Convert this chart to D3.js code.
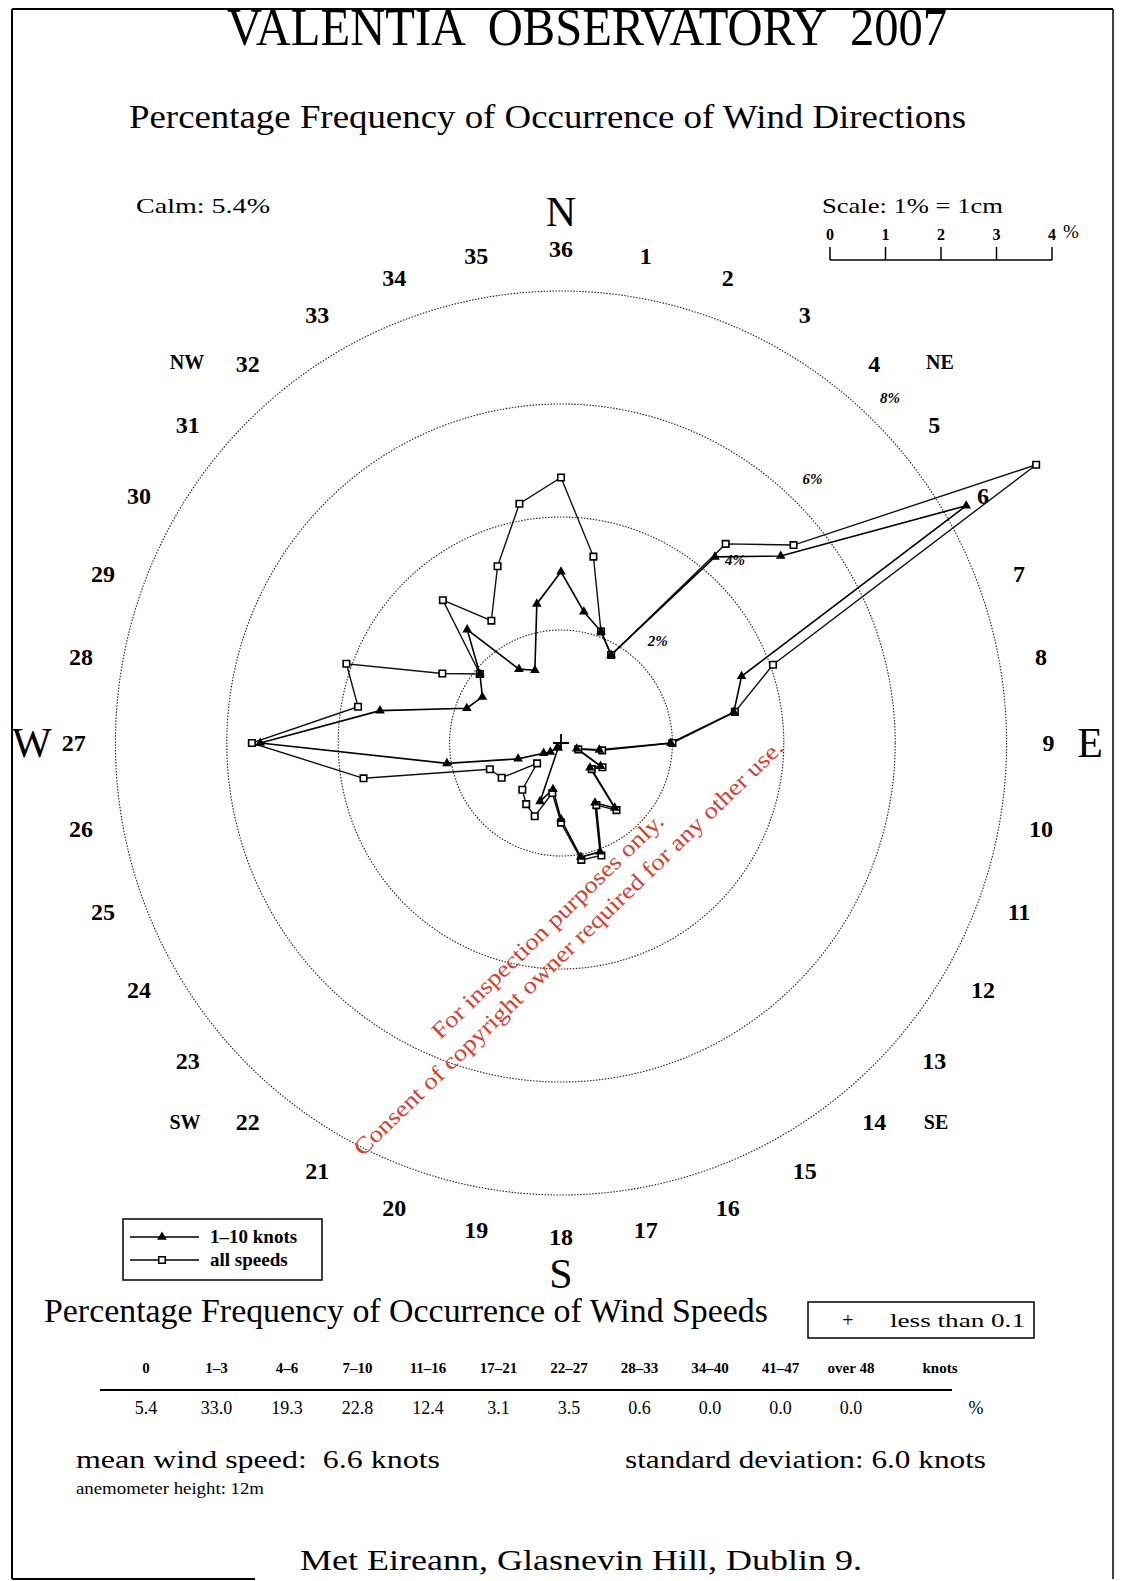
<!DOCTYPE html>
<html>
<head>
<meta charset="utf-8">
<script src="https://cdn.jsdelivr.net/npm/d3@7"></script>
<style>
  body { margin: 0; background: #fff; }
  text { font-family: 'Liberation Serif', 'Times New Roman', serif; fill: #000; }
</style>
</head>
<body>
<script>
var w = 1122;
var h = 1581;

// wind directions in tens of degrees (1 = 10deg ... 36 = 360deg)
var directions = d3.range(1, 37);
// % frequency, all speeds (squares)
var allSpeeds = [3.35, 2.1, 1.8, 4.6, 5.45, 9.85, 4.05, 3.17, 2.0, 0.75, 0.33, 0.86,
                 0.72, 1.55, 1.27, 2.12, 2.1, 1.41, 0.9, 1.38, 1.25, 1.08, 0.56, 1.23,
                 1.36, 3.6, 5.55, 3.7, 4.1, 2.46, 1.9, 3.3, 2.5, 3.33, 4.3, 4.7];
// % frequency, 1-10 knots (triangles)
var lowSpeeds = [2.36, 2.1, 1.8, 4.3, 5.15, 8.4, 3.45, 3.15, 1.97, 0.7, 0.3, 0.82,
                 0.68, 1.5, 1.22, 2.05, 2.05, 1.35, 0.83, 1.1, 0.1, 0.1, 0.25, 0.36,
                 0.82, 2.08, 5.4, 3.3, 1.8, 1.63, 1.9, 2.62, 1.51, 1.37, 2.5, 3.03];
var rings = [2, 4, 6, 8];
var scaleTicks = [0, 1, 2, 3, 4];

// wind speed table
var speedBands = ['0', '1–3', '4–6', '7–10', '11–16', '17–21', '22–27', '28–33', '34–40', '41–47', 'over 48'];
var speedPct = ['5.4', '33.0', '19.3', '22.8', '12.4', '3.1', '3.5', '0.6', '0.0', '0.0', '0.0'];

var compass = [['N', 0], ['E', 90], ['S', 180], ['W', 270]];
var octants = [['NE', 940, 362], ['SE', 936, 1122], ['SW', 185, 1122], ['NW', 187, 362]];

var cx = 561, cy = 743;

var svg = d3.select('body')
            .append('svg')
            .attr('width', w)
            .attr('height', h);

// scanned page is a touch taller than wide
var rx = d3.scaleLinear().domain([0, 1]).range([0, 55.7]);
var ry = d3.scaleLinear().domain([0, 1]).range([0, 56.5]);
var ang = d3.scaleLinear().domain([0, 36]).range([0, 2 * Math.PI]);

function px(d, v) { return cx + rx(v) * Math.sin(ang(d)); }
function py(d, v) { return cy - ry(v) * Math.cos(ang(d)); }

// page frame
svg.append('line').attr('x1', 12).attr('y1', 9).attr('x2', 1113).attr('y2', 9)
   .attr('stroke', '#000').attr('stroke-width', 2);
svg.append('line').attr('x1', 12).attr('y1', 9).attr('x2', 12).attr('y2', 1579)
   .attr('stroke', '#000').attr('stroke-width', 2);
svg.append('line').attr('x1', 1113).attr('y1', 9).attr('x2', 1113).attr('y2', 1579)
   .attr('stroke', '#000').attr('stroke-width', 1.5);
svg.append('line').attr('x1', 12).attr('y1', 1579).attr('x2', 255).attr('y2', 1579)
   .attr('stroke', '#000').attr('stroke-width', 2);

// titles
svg.append('text').attr('x', 227).attr('y', 45)
   .attr('font-size', 52).attr('textLength', 720).attr('lengthAdjust', 'spacingAndGlyphs')
   .text('VALENTIA  OBSERVATORY  2007').style('white-space', 'pre');
svg.append('text').attr('x', 129).attr('y', 128)
   .attr('font-size', 34).attr('textLength', 837).attr('lengthAdjust', 'spacingAndGlyphs')
   .text('Percentage Frequency of Occurrence of Wind Directions');
svg.append('text').attr('x', 136).attr('y', 213)
   .attr('font-size', 22).attr('textLength', 134).attr('lengthAdjust', 'spacingAndGlyphs')
   .text('Calm: 5.4%');

// scale bar 1% = 1cm
var sb = d3.scaleLinear().domain([0, 4]).range([830, 1052]);
svg.append('text').attr('x', 822).attr('y', 213)
   .attr('font-size', 21).attr('textLength', 181).attr('lengthAdjust', 'spacingAndGlyphs')
   .text('Scale: 1% = 1cm');
svg.append('line').attr('x1', sb(0)).attr('x2', sb(4)).attr('y1', 260).attr('y2', 260)
   .attr('stroke', '#000').attr('stroke-width', 1.5);
svg.selectAll('.sbtick').data(scaleTicks).enter().append('line')
   .attr('x1', sb).attr('x2', sb).attr('y1', 247).attr('y2', 260)
   .attr('stroke', '#000').attr('stroke-width', 1.5);
svg.selectAll('.sblab').data(scaleTicks).enter().append('text')
   .attr('x', sb).attr('y', 240).attr('text-anchor', 'middle')
   .attr('font-size', 16).attr('font-weight', 'bold').text(function(d) { return d; });
svg.append('text').attr('x', 1063).attr('y', 238).attr('font-size', 19).text('%');

// dotted rings
svg.selectAll('.ring').data(rings).enter().append('ellipse')
   .attr('cx', cx).attr('cy', cy)
   .attr('rx', function(d) { return rx(d); })
   .attr('ry', function(d) { return ry(d); })
   .attr('fill', 'none').attr('stroke', '#222').attr('stroke-width', 1.1)
   .attr('stroke-dasharray', '1.5,1.5');

svg.selectAll('.ringlab').data(rings).enter().append('text')
   .attr('x', function(d) { return px(4.4, d + 0.5); })
   .attr('y', function(d) { return py(4.4, d + 0.5); })
   .attr('text-anchor', 'middle').attr('dominant-baseline', 'central')
   .attr('font-size', 15).attr('font-weight', 'bold').attr('font-style', 'italic')
   .text(function(d) { return d + '%'; });

// direction numbers
svg.selectAll('.dirlab').data(directions).enter().append('text')
   .attr('x', function(d) { return px(d, 8.75); })
   .attr('y', function(d) { return py(d, 8.75); })
   .attr('text-anchor', 'middle').attr('dominant-baseline', 'central')
   .attr('font-size', 24).attr('font-weight', 'bold')
   .text(function(d) { return d; });

// N E S W
svg.selectAll('.comp').data(compass).enter().append('text')
   .attr('x', function(d) { return px(d[1] / 10, d[1] == 90 || d[1] == 270 ? 9.5 : 9.3); })
   .attr('y', function(d) { return py(d[1] / 10, d[1] == 0 || d[1] == 180 ? 9.4 : 9.5); })
   .attr('text-anchor', 'middle').attr('dominant-baseline', 'central')
   .attr('font-size', 42)
   .text(function(d) { return d[0]; });

svg.selectAll('.oct').data(octants).enter().append('text')
   .attr('x', function(d) { return d[1]; }).attr('y', function(d) { return d[2]; })
   .attr('text-anchor', 'middle').attr('dominant-baseline', 'central')
   .attr('font-size', 20).attr('font-weight', 'bold')
   .text(function(d) { return d[0]; });

// wind rose polylines
function rose(vals) {
  return d3.line()
    .x(function(d, i) { return px(directions[i], d); })
    .y(function(d, i) { return py(directions[i], d); })
    .curve(d3.curveLinearClosed)(vals);
}

svg.append('path').attr('d', rose(allSpeeds))
   .attr('fill', 'none').attr('stroke', '#111').attr('stroke-width', 1.4);
svg.append('path').attr('d', rose(lowSpeeds))
   .attr('fill', 'none').attr('stroke', '#000').attr('stroke-width', 1.6);

var sq = d3.symbol().type(d3.symbolSquare).size(42);
var tri = d3.symbol().type(d3.symbolTriangle).size(40);

svg.selectAll('.sq').data(allSpeeds).enter().append('path')
   .attr('d', sq)
   .attr('transform', function(d, i) { return 'translate(' + px(directions[i], d) + ',' + py(directions[i], d) + ')'; })
   .attr('fill', '#fff').attr('stroke', '#000').attr('stroke-width', 1.6);
svg.selectAll('.tri').data(lowSpeeds).enter().append('path')
   .attr('d', tri)
   .attr('transform', function(d, i) { return 'translate(' + px(directions[i], d) + ',' + py(directions[i], d) + ')'; })
   .attr('fill', '#000');

// centre cross
svg.append('path').attr('d', 'M' + (cx - 8) + ',' + cy + 'H' + (cx + 8) + 'M' + cx + ',' + (cy - 9) + 'V' + (cy + 7))
   .attr('stroke', '#000').attr('stroke-width', 1.8);

// legend
var leg = svg.append('g');
leg.append('rect').attr('x', 123).attr('y', 1219).attr('width', 199).attr('height', 61)
   .attr('fill', 'none').attr('stroke', '#000').attr('stroke-width', 1.5);
[[1237, '1–10 knots', tri], [1260, 'all speeds', sq]].forEach(function(r, i) {
  leg.append('line').attr('x1', 130).attr('x2', 199).attr('y1', r[0]).attr('y2', r[0])
     .attr('stroke', '#000').attr('stroke-width', 1.3);
  leg.append('path').attr('d', r[2]).attr('transform', 'translate(162,' + r[0] + ')')
     .attr('fill', i == 0 ? '#000' : '#fff').attr('stroke', '#000').attr('stroke-width', i == 0 ? 0 : 1.5);
  leg.append('text').attr('x', 210).attr('y', r[0] + 6).attr('font-size', 19).attr('font-weight', 'bold')
     .text(r[1]);
});

// watermark
var wm = svg.append('g').attr('transform', 'translate(559,938) rotate(-44)');
wm.append('text').attr('x', 0).attr('y', -9).attr('text-anchor', 'middle')
  .attr('font-size', 23).attr('textLength', 313).attr('lengthAdjust', 'spacingAndGlyphs')
  .style('fill', '#d2412f').text('For inspection purposes only.');
wm.append('text').attr('x', 0).attr('y', 21).attr('text-anchor', 'middle')
  .attr('font-size', 23).attr('textLength', 587).attr('lengthAdjust', 'spacingAndGlyphs')
  .style('fill', '#d2412f').text('Consent of copyright owner required for any other use.');

// wind speed section
svg.append('text').attr('x', 44).attr('y', 1322)
   .attr('font-size', 33).attr('textLength', 724).attr('lengthAdjust', 'spacingAndGlyphs')
   .text('Percentage Frequency of Occurrence of Wind Speeds');
svg.append('rect').attr('x', 808).attr('y', 1302).attr('width', 226).attr('height', 36)
   .attr('fill', 'none').attr('stroke', '#000').attr('stroke-width', 1.5);
svg.append('text').attr('x', 848).attr('y', 1327).attr('text-anchor', 'middle').attr('font-size', 20).text('+');
svg.append('text').attr('x', 890).attr('y', 1327).attr('font-size', 18)
   .attr('textLength', 135).attr('lengthAdjust', 'spacingAndGlyphs').text('less than 0.1');

var sx = d3.scalePoint().domain(speedBands).range([146, 851]);
svg.selectAll('.band').data(speedBands).enter().append('text')
   .attr('x', function(d) { return sx(d); }).attr('y', 1373)
   .attr('text-anchor', 'middle').attr('font-size', 15).attr('font-weight', 'bold')
   .text(function(d) { return d; });
svg.append('text').attr('x', 940).attr('y', 1373).attr('text-anchor', 'middle')
   .attr('font-size', 15).attr('font-weight', 'bold').text('knots');
svg.append('line').attr('x1', 100).attr('x2', 952).attr('y1', 1390).attr('y2', 1390)
   .attr('stroke', '#000').attr('stroke-width', 2);
svg.selectAll('.pct').data(speedPct).enter().append('text')
   .attr('x', function(d, i) { return sx(speedBands[i]); }).attr('y', 1414)
   .attr('text-anchor', 'middle').attr('font-size', 18)
   .text(function(d) { return d; });
svg.append('text').attr('x', 976).attr('y', 1414).attr('text-anchor', 'middle')
   .attr('font-size', 18).text('%');

svg.append('text').attr('x', 76).attr('y', 1468)
   .attr('font-size', 26).attr('textLength', 364).attr('lengthAdjust', 'spacingAndGlyphs')
   .text('mean wind speed:  6.6 knots').style('white-space', 'pre');
svg.append('text').attr('x', 625).attr('y', 1468)
   .attr('font-size', 26).attr('textLength', 361).attr('lengthAdjust', 'spacingAndGlyphs')
   .text('standard deviation: 6.0 knots');
svg.append('text').attr('x', 76).attr('y', 1494)
   .attr('font-size', 16).attr('textLength', 188).attr('lengthAdjust', 'spacingAndGlyphs')
   .text('anemometer height: 12m');
svg.append('text').attr('x', 300).attr('y', 1570)
   .attr('font-size', 29).attr('textLength', 562).attr('lengthAdjust', 'spacingAndGlyphs')
   .text('Met Eireann, Glasnevin Hill, Dublin 9.');
</script>
</body>
</html>
